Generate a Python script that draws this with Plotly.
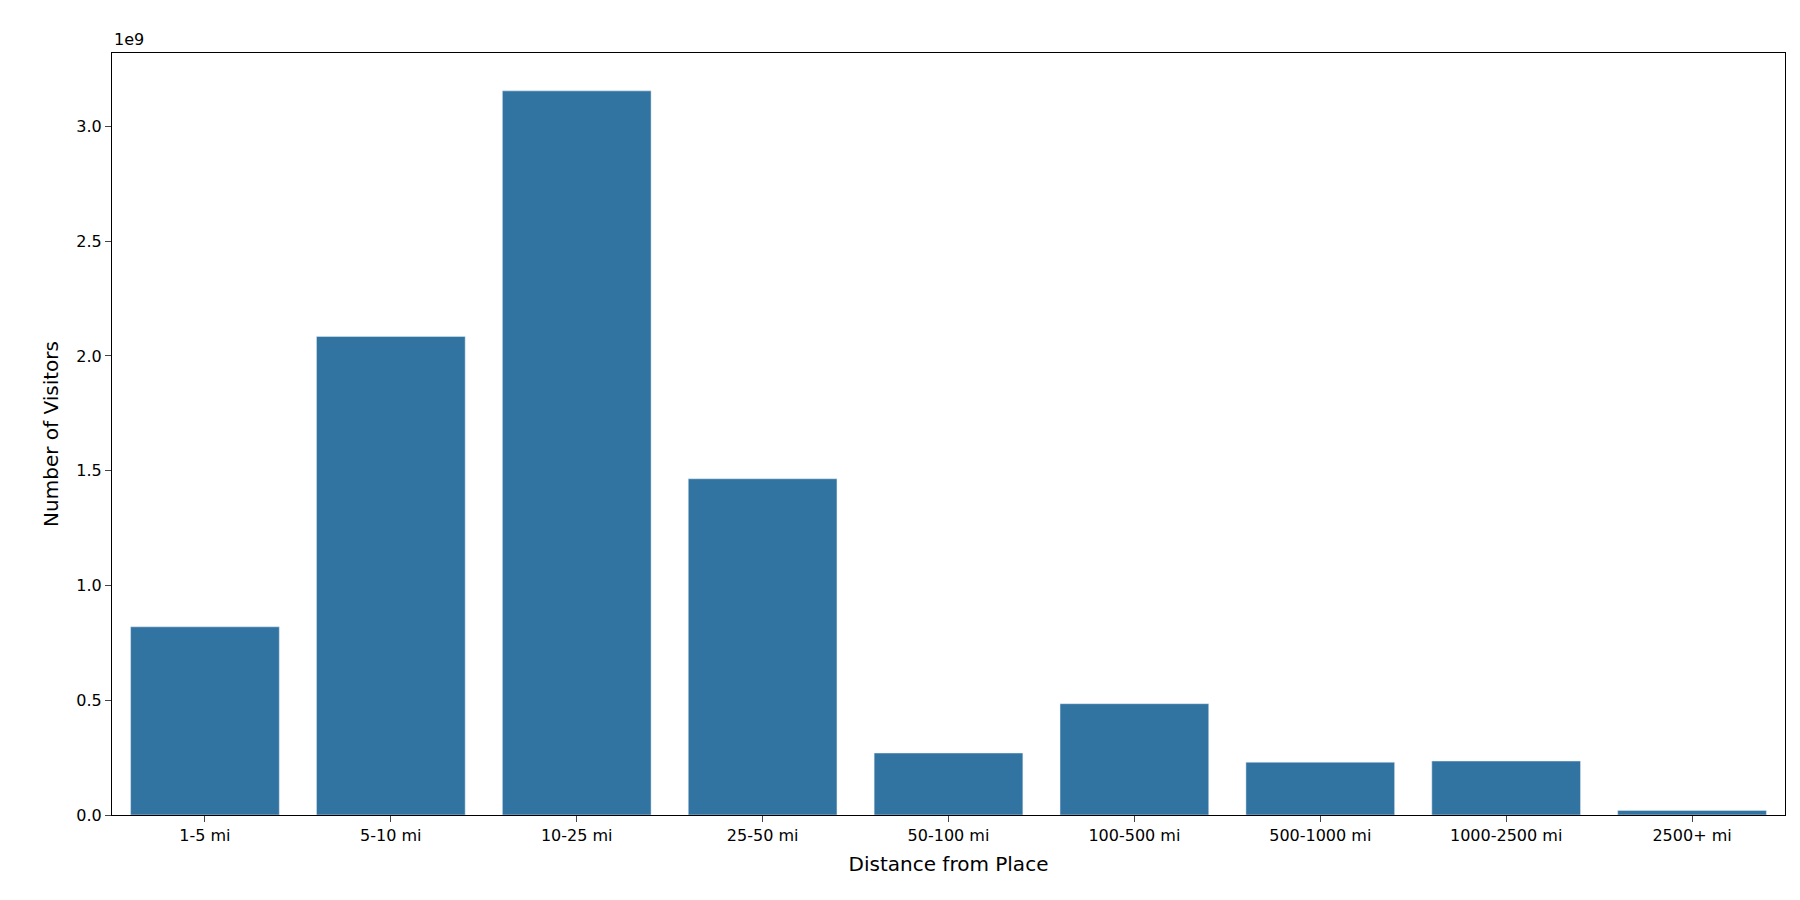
import plotly.graph_objects as go

categories = ["1-5 mi", "5-10 mi", "10-25 mi", "25-50 mi", "50-100 mi", "100-500 mi", "500-1000 mi", "1000-2500 mi", "2500+ mi"]
visitors = [0.82e9, 2.085e9, 3.155e9, 1.465e9, 0.27e9, 0.485e9, 0.23e9, 0.235e9, 0.02e9]
tick_vals = [0, 0.5e9, 1.0e9, 1.5e9, 2.0e9, 2.5e9, 3.0e9]
tick_text = ["0.0", "0.5", "1.0", "1.5", "2.0", "2.5", "3.0"]

fig = go.Figure(go.Bar(x=categories, y=visitors, marker_color="#3274a1", width=0.8))
font = dict(family="DejaVu Sans", color="black")
fig.update_layout(
    width=1800, height=900, plot_bgcolor="white", paper_bgcolor="white",
    margin=dict(l=104, r=23, t=45, b=93), font=dict(family="DejaVu Sans", size=16, color="black"),
    bargap=0.2, showlegend=False,
)
fig.update_xaxes(title=dict(text="Distance from Place", font=dict(size=20), standoff=12),
                 range=[-0.5, 8.5], showline=True, linecolor="black", mirror=True,
                 ticks="outside", ticklen=6, tickfont=dict(size=16))
fig.update_yaxes(title=dict(text="Number of Visitors", font=dict(size=20), standoff=12),
                 range=[0, 3.32e9], tickvals=tick_vals, ticktext=tick_text,
                 showgrid=False, zeroline=False, showline=True, linecolor="black", mirror=True,
                 ticks="outside", ticklen=6, tickfont=dict(size=16))
fig.add_annotation(text="1e9", xref="paper", yref="paper", x=0, y=1, xanchor="left", yanchor="bottom",
                   showarrow=False, font=dict(size=16), yshift=2)
fig.write_html("out.html")
